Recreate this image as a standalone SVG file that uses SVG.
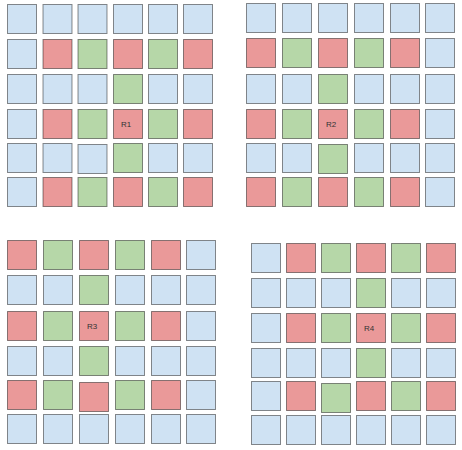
<svg xmlns="http://www.w3.org/2000/svg" width="462" height="450" viewBox="0 0 462 450">
<style>
rect{stroke:#000;stroke-opacity:0.45;stroke-width:1;width:29px;height:29px}
.b{fill:#cfe2f3}.r{fill:#ea9999}.g{fill:#b6d7a8}
text{font-family:"Liberation Sans",Arial,sans-serif;font-size:8px;fill:#333;text-anchor:middle}
</style>
<rect width="462" height="450" fill="#fff" style="stroke:none;width:462px;height:450px"/>
<g id="grid1">
<rect class="b" x="7.5" y="4.5"/><rect class="b" x="43" y="4.5"/><rect class="b" x="78" y="4.5"/><rect class="b" x="113.5" y="4.5"/><rect class="b" x="148.5" y="4.5"/><rect class="b" x="183.5" y="4.5"/>
<rect class="b" x="7.5" y="39.5"/><rect class="r" x="43" y="39.5"/><rect class="g" x="78" y="39.5"/><rect class="r" x="113.5" y="39.5"/><rect class="g" x="148.5" y="39.5"/><rect class="r" x="183.5" y="39.5"/>
<rect class="b" x="7.5" y="74.5"/><rect class="b" x="43" y="74.5"/><rect class="b" x="78" y="74.5"/><rect class="g" x="113.5" y="74.5"/><rect class="b" x="148.5" y="74.5"/><rect class="b" x="183.5" y="74.5"/>
<rect class="b" x="7.5" y="109.5"/><rect class="r" x="43" y="109.5"/><rect class="g" x="78" y="109.5"/><rect class="g" x="148.5" y="109.5"/><rect class="r" x="183.5" y="109.5"/>
<rect class="b" x="7.5" y="143.5"/><rect class="b" x="43" y="143.5"/><rect class="b" x="78" y="144.5"/><rect class="g" x="113.5" y="143.5"/><rect class="b" x="148.5" y="143.5"/><rect class="b" x="183.5" y="143.5"/>
<rect class="b" x="7.5" y="177.5"/><rect class="r" x="43" y="177.5"/><rect class="g" x="78" y="177.5"/><rect class="r" x="113.5" y="177.5"/><rect class="g" x="148.5" y="177.5"/><rect class="r" x="183.5" y="177.5"/>
</g>
<g id="R1"><rect class="r" x="113.5" y="109.5"/><text x="126" y="127">R1</text></g>
<g id="grid2">
<rect class="b" x="246.5" y="3.5"/><rect class="b" x="282.5" y="3.5"/><rect class="b" x="318.5" y="3.5"/><rect class="b" x="354.5" y="3.5"/><rect class="b" x="390.5" y="3.5"/><rect class="b" x="425.5" y="3.5"/>
<rect class="r" x="246.5" y="38.5"/><rect class="g" x="282.5" y="38.5"/><rect class="r" x="318.5" y="38.5"/><rect class="g" x="354.5" y="38.5"/><rect class="r" x="390.5" y="38.5"/><rect class="b" x="425.5" y="38.5"/>
<rect class="b" x="246.5" y="74.5"/><rect class="b" x="282.5" y="74.5"/><rect class="g" x="318.5" y="74.5"/><rect class="b" x="354.5" y="74.5"/><rect class="b" x="390.5" y="74.5"/><rect class="b" x="425.5" y="74.5"/>
<rect class="r" x="246.5" y="109.5"/><rect class="g" x="282.5" y="109.5"/><rect class="g" x="354.5" y="109.5"/><rect class="r" x="390.5" y="109.5"/><rect class="b" x="425.5" y="109.5"/>
<rect class="b" x="246.5" y="143.5"/><rect class="b" x="282.5" y="143.5"/><rect class="g" x="318.5" y="144.5"/><rect class="b" x="354.5" y="143.5"/><rect class="b" x="390.5" y="143.5"/><rect class="b" x="425.5" y="143.5"/>
<rect class="r" x="246.5" y="177.5"/><rect class="g" x="282.5" y="177.5"/><rect class="r" x="318.5" y="177.5"/><rect class="g" x="354.5" y="177.5"/><rect class="r" x="390.5" y="177.5"/><rect class="b" x="425.5" y="177.5"/>
</g>
<g id="R2"><rect class="r" x="318.5" y="109.5"/><text x="331" y="127">R2</text></g>
<g id="grid3">
<rect class="r" x="7.5" y="240.5"/><rect class="g" x="43.5" y="240.5"/><rect class="r" x="79.5" y="240.5"/><rect class="g" x="115.5" y="240.5"/><rect class="r" x="151.5" y="240.5"/><rect class="b" x="186.5" y="240.5"/>
<rect class="b" x="7.5" y="275.5"/><rect class="b" x="43.5" y="275.5"/><rect class="g" x="79.5" y="275.5"/><rect class="b" x="115.5" y="275.5"/><rect class="b" x="151.5" y="275.5"/><rect class="b" x="186.5" y="275.5"/>
<rect class="r" x="7.5" y="311.5"/><rect class="g" x="43.5" y="311.5"/><rect class="g" x="115.5" y="311.5"/><rect class="r" x="151.5" y="311.5"/><rect class="b" x="186.5" y="311.5"/>
<rect class="b" x="7.5" y="346.5"/><rect class="b" x="43.5" y="346.5"/><rect class="g" x="79.5" y="346.5"/><rect class="b" x="115.5" y="346.5"/><rect class="b" x="151.5" y="346.5"/><rect class="b" x="186.5" y="346.5"/>
<rect class="r" x="7.5" y="380.5"/><rect class="g" x="43.5" y="380.5"/><rect class="r" x="79.5" y="382.5"/><rect class="g" x="115.5" y="380.5"/><rect class="r" x="151.5" y="380.5"/><rect class="b" x="186.5" y="380.5"/>
<rect class="b" x="7.5" y="414.5"/><rect class="b" x="43.5" y="414.5"/><rect class="b" x="79.5" y="414.5"/><rect class="b" x="115.5" y="414.5"/><rect class="b" x="151.5" y="414.5"/><rect class="b" x="186.5" y="414.5"/>
</g>
<g id="R3"><rect class="r" x="79.5" y="311.5"/><text x="92" y="329">R3</text></g>
<g id="grid4">
<rect class="b" x="251.5" y="243.5"/><rect class="r" x="286.5" y="243.5"/><rect class="g" x="321.5" y="243.5"/><rect class="r" x="356.5" y="243.5"/><rect class="g" x="391.5" y="243.5"/><rect class="r" x="426.5" y="243.5"/>
<rect class="b" x="251.5" y="278.5"/><rect class="b" x="286.5" y="278.5"/><rect class="b" x="321.5" y="278.5"/><rect class="g" x="356.5" y="278.5"/><rect class="b" x="391.5" y="278.5"/><rect class="b" x="426.5" y="278.5"/>
<rect class="b" x="251.5" y="313.5"/><rect class="r" x="286.5" y="313.5"/><rect class="g" x="321.5" y="313.5"/><rect class="g" x="391.5" y="313.5"/><rect class="r" x="426.5" y="313.5"/>
<rect class="b" x="251.5" y="348.5"/><rect class="b" x="286.5" y="348.5"/><rect class="b" x="321.5" y="348.5"/><rect class="g" x="356.5" y="348.5"/><rect class="b" x="391.5" y="348.5"/><rect class="b" x="426.5" y="348.5"/>
<rect class="b" x="251.5" y="381.5"/><rect class="r" x="286.5" y="381.5"/><rect class="g" x="321.5" y="383.5"/><rect class="r" x="356.5" y="381.5"/><rect class="g" x="391.5" y="381.5"/><rect class="r" x="426.5" y="381.5"/>
<rect class="b" x="251.5" y="415.5"/><rect class="b" x="286.5" y="415.5"/><rect class="b" x="321.5" y="415.5"/><rect class="b" x="356.5" y="415.5"/><rect class="b" x="391.5" y="415.5"/><rect class="b" x="426.5" y="415.5"/>
</g>
<g id="R4"><rect class="r" x="356.5" y="313.5"/><text x="369" y="331">R4</text></g>
</svg>
